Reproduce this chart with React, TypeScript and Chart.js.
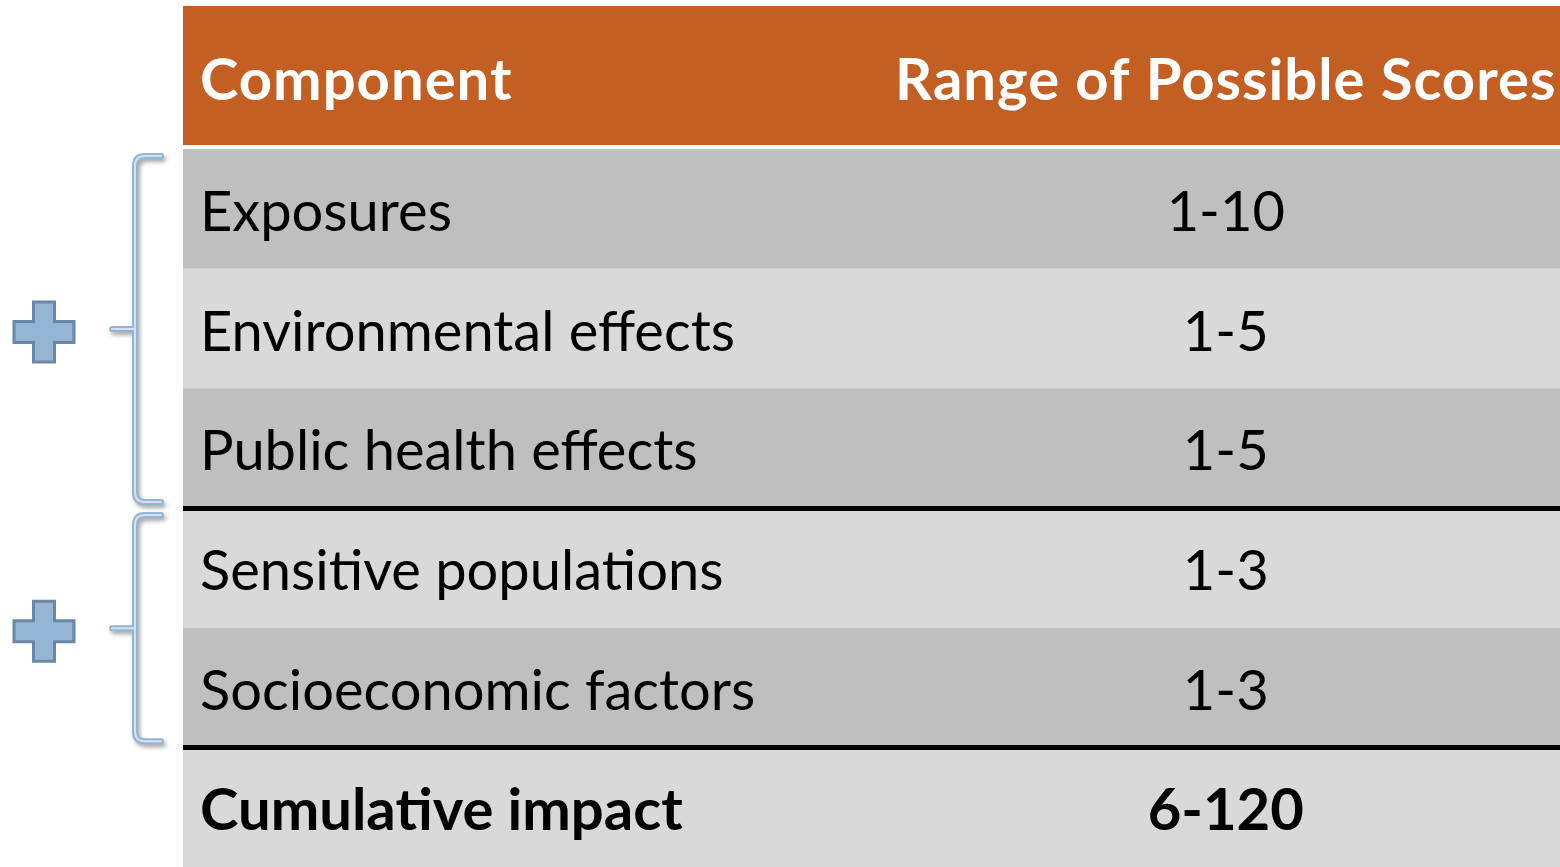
import React, { useEffect, useRef } from 'react';
import { Chart, registerables } from 'chart.js';

Chart.register(...registerables);

// ---- data ----
const headers = ['Component', 'Range of Possible Scores'];
const components = [
  'Exposures',
  'Environmental effects',
  'Public health effects',
  'Sensitive populations',
  'Socioeconomic factors',
  'Cumulative impact',
];
const scoreRanges = ['1-10', '1-5', '1-5', '1-3', '1-3', '6-120'];
const rowShades = ['#BFBFBF', '#D9D9D9', '#BFBFBF', '#D9D9D9', '#BFBFBF', '#D9D9D9'];
// grid-line indices (top edge of these rows) drawn as black rules
const ruleBeforeRows = [3, 5];
// rows grouped by the blue "+" brackets
const bracketGroups = [
  [0, 2],
  [3, 4],
];

// ---- style ----
const FONT = 'Lato, "Open Sans", sans-serif';
const HEADER_BG = '#C45F24';
const BODY_SIZE = 56;
const BOLD_SIZE = 58;
const HEADER_SIZE = 58;
const LABEL_SHIFT = 4;
const RANGE_COL_SHIFT = 10;

const tablePlugin = {
  id: 'tableDecor',
  afterDraw(chart: any) {
    const { ctx } = chart;
    const xs = chart.scales.x;
    const ys = chart.scales.y;
    const last = components.length - 1;
    const rangeX = xs.getPixelForTick(1) + RANGE_COL_SHIFT;

    // header band
    ctx.save();
    ctx.fillStyle = HEADER_BG;
    ctx.fillRect(xs.left, xs.top, xs.right - xs.left, xs.bottom - xs.top - 4);
    ctx.fillStyle = '#FFFFFF';
    ctx.font = `bold ${HEADER_SIZE}px ${FONT}`;
    (ctx as any).letterSpacing = '1px';
    ctx.textBaseline = 'middle';
    const hy = (xs.top + xs.bottom - 4) / 2 + LABEL_SHIFT + 2;
    ctx.textAlign = 'left';
    ctx.fillText(headers[0], xs.left + 17, hy);
    ctx.textAlign = 'center';
    ctx.fillText(headers[1], rangeX, hy);
    (ctx as any).letterSpacing = '0px';

    // score ranges
    ctx.fillStyle = '#000000';
    scoreRanges.forEach((txt, i) => {
      ctx.font = i === last ? `bold ${BOLD_SIZE}px ${FONT}` : `normal ${BODY_SIZE}px ${FONT}`;
      ctx.fillText(txt, rangeX, ys.getPixelForTick(i) + LABEL_SHIFT);
    });

    // brackets and plus signs in the left margin
    const band = ys.height / components.length;
    const bx = 135;
    const hookX = 161;
    const nubX = 112;
    bracketGroups.forEach(([a, b]) => {
      const top = ys.getPixelForTick(a) - band / 2 + 7;
      const bottom = ys.getPixelForTick(b) + band / 2 - 6;
      const mid = (top + bottom) / 2;
      const r = 10;
      const path = () => {
        ctx.beginPath();
        ctx.moveTo(hookX, top);
        ctx.lineTo(bx + r, top);
        ctx.quadraticCurveTo(bx, top, bx, top + r);
        ctx.lineTo(bx, bottom - r);
        ctx.quadraticCurveTo(bx, bottom, bx + r, bottom);
        ctx.lineTo(hookX, bottom);
        ctx.moveTo(bx, mid);
        ctx.lineTo(nubX, mid);
      };
      ctx.lineCap = 'round';
      ctx.lineJoin = 'round';
      ctx.shadowColor = 'rgba(0,0,0,0.35)';
      ctx.shadowBlur = 4;
      ctx.shadowOffsetX = 2;
      ctx.shadowOffsetY = 3;
      path();
      ctx.strokeStyle = '#94B4D6';
      ctx.lineWidth = 6;
      ctx.stroke();
      ctx.shadowColor = 'rgba(0,0,0,0)';
      path();
      ctx.strokeStyle = '#D3E1EE';
      ctx.lineWidth = 2;
      ctx.stroke();

      // plus sign
      const cx = 44;
      const cy = mid + 3;
      const L = 30;
      const w = 10.5;
      ctx.beginPath();
      ctx.moveTo(cx - w, cy - L);
      ctx.lineTo(cx + w, cy - L);
      ctx.lineTo(cx + w, cy - w);
      ctx.lineTo(cx + L, cy - w);
      ctx.lineTo(cx + L, cy + w);
      ctx.lineTo(cx + w, cy + w);
      ctx.lineTo(cx + w, cy + L);
      ctx.lineTo(cx - w, cy + L);
      ctx.lineTo(cx - w, cy + w);
      ctx.lineTo(cx - L, cy + w);
      ctx.lineTo(cx - L, cy - w);
      ctx.lineTo(cx - w, cy - w);
      ctx.closePath();
      ctx.fillStyle = '#95B5D5';
      ctx.fill();
      ctx.lineJoin = 'miter';
      ctx.strokeStyle = '#6A88A6';
      ctx.lineWidth = 3;
      ctx.stroke();
    });
    ctx.restore();
  },
};

export default function App() {
  const canvasRef = useRef<HTMLCanvasElement | null>(null);

  useEffect(() => {
    const canvas = canvasRef.current;
    if (!canvas) return;
    const last = components.length - 1;
    const chart = new Chart(canvas, {
      type: 'bar',
      data: {
        labels: components,
        datasets: [
          {
            data: components.map(() => 1),
            backgroundColor: rowShades,
            borderWidth: 0,
            barPercentage: 1,
            categoryPercentage: 1,
            inflateAmount: 0,
            xAxisID: 'xv',
            yAxisID: 'y',
          } as any,
        ],
      },
      options: {
        indexAxis: 'y',
        animation: false,
        responsive: false,
        events: [],
        layout: { padding: { left: 183, top: 6, right: 0, bottom: 0 } },
        plugins: {
          legend: { display: false },
          tooltip: { enabled: false },
          title: { display: false },
        },
        scales: {
          x: {
            type: 'category',
            labels: headers,
            position: 'top',
            offset: true,
            grid: { display: false },
            border: { display: false },
            ticks: { display: false },
            afterFit: (s: any) => {
              s.height = 143;
              s.paddingLeft = 0;
              s.paddingRight = 0;
            },
          },
          xv: {
            type: 'linear',
            axis: 'x',
            min: 0,
            max: 1,
            display: false,
          },
          y: {
            type: 'category',
            position: 'left',
            offset: true,
            border: { display: false },
            grid: {
              offset: true,
              drawTicks: false,
              z: 1,
              color: (c: any) => (ruleBeforeRows.includes(c.index) ? '#000000' : 'rgba(0,0,0,0)'),
              lineWidth: 5,
            },
            ticks: {
              z: 1,
              autoSkip: false,
              mirror: true,
              padding: 17,
              crossAlign: 'near',
              color: '#000000',
              labelOffset: LABEL_SHIFT,
              font: (c: any) => ({
                family: FONT,
                size: c.index === last ? BOLD_SIZE : BODY_SIZE,
                weight: c.index === last ? 'bold' : 'normal',
              }),
            },
            afterFit: (s: any) => {
              s.width = 0;
              s.paddingTop = 0;
              s.paddingBottom = 0;
            },
          },
        } as any,
      },
      plugins: [tablePlugin],
    });
    return () => chart.destroy();
  }, []);

  return (
    <div style={{ position: 'absolute', left: 0, top: 0, width: 1560, height: 867, background: '#FFFFFF' }}>
      <canvas ref={canvasRef} width={1560} height={867} style={{ display: 'block' }} />
    </div>
  );
}
